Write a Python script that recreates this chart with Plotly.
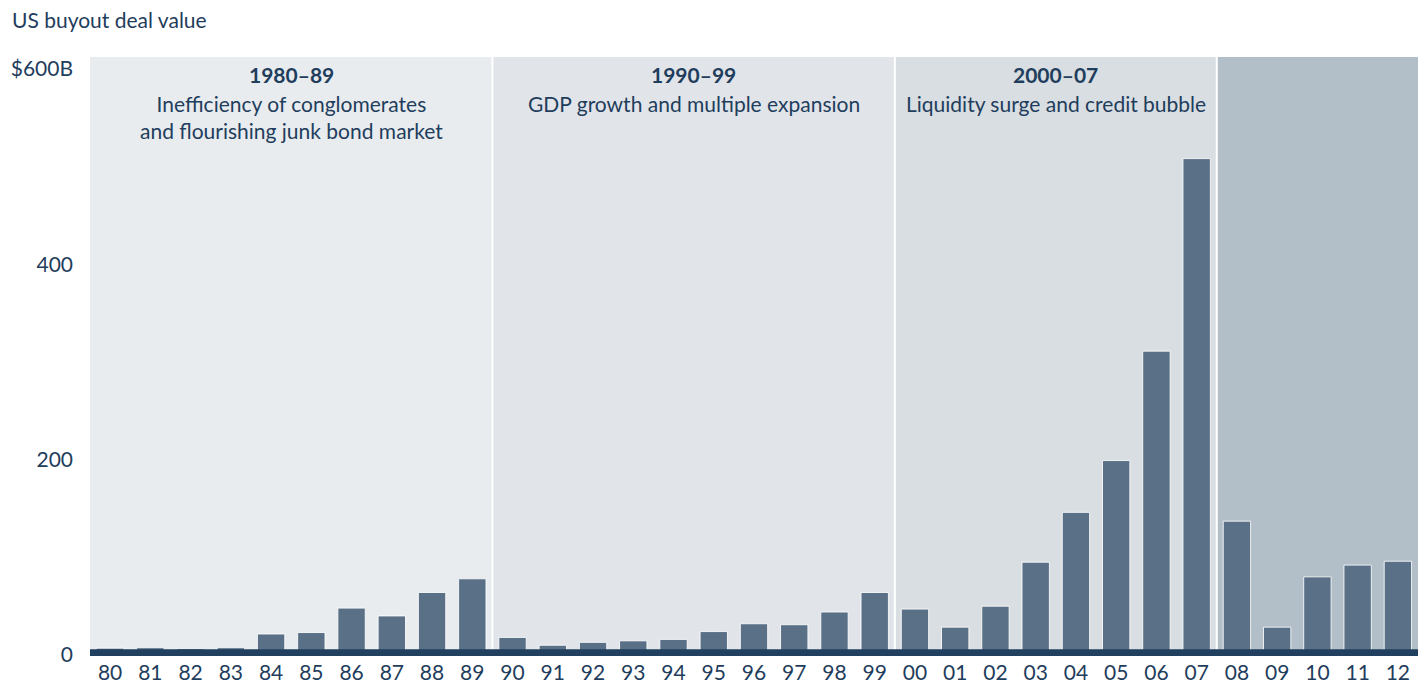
import plotly.graph_objects as go

years = ["80", "81", "82", "83", "84", "85", "86", "87", "88", "89",
         "90", "91", "92", "93", "94", "95", "96", "97", "98", "99",
         "00", "01", "02", "03", "04", "05", "06", "07",
         "08", "09", "10", "11", "12"]
deal_value = [7, 7.5, 6.5, 7.5, 21.5, 23, 48, 40, 64, 78,
              18, 10, 13, 14.5, 16, 24, 32, 31, 44, 64,
              47, 28.5, 50, 95, 146, 199, 311, 508,
              137, 28.5, 80, 92, 96]

era_labels = ["1980–89", "1990–99", "2000–07", ""]
era_notes = ["Inefficiency of conglomerates<br>and flourishing junk bond market",
             "GDP growth and multiple expansion",
             "Liquidity surge and credit bubble", ""]
era_start = [0, 10, 20, 28]
era_end = [9, 19, 27, 32]
era_colors = ["#e8ecef", "#e1e5ea", "#d9dee2", "#b2bec8"]

ytick_vals = [0, 200, 400, 600]
ytick_text = ["0", "200", "400", "$600B"]

NAVY = "#1f3d5c"
FONT = "Lato"

W, H = 1420, 685
ML, MR, MT, MB = 82, 10, 49, 37
PW, PH = W - ML - MR, H - MT - MB

fig = go.Figure()
fig.add_trace(go.Bar(
    x=list(range(len(years))), y=deal_value,
    marker=dict(color="#5a7086", line=dict(color="rgba(255,255,255,0.85)", width=1)),
    width=0.68, hoverinfo="x+y",
))

shapes = []
annotations = []
for s, e, c, lab, note in zip(era_start, era_end, era_colors, era_labels, era_notes):
    shapes.append(dict(type="rect", xref="x", yref="paper", x0=s - 0.5, x1=e + 0.5,
                       y0=0, y1=1, fillcolor=c, line=dict(width=0), layer="below"))
    if lab:
        cx = (s + e) / 2
        annotations.append(dict(x=cx, y=1, xref="x", yref="paper", yshift=-3,
                                text="<b>" + lab + "</b>", showarrow=False,
                                xanchor="center", yanchor="top",
                                font=dict(family=FONT, size=21, color=NAVY)))
        annotations.append(dict(x=cx, y=1, xref="x", yref="paper", yshift=-32,
                                text=note, showarrow=False,
                                xanchor="center", yanchor="top",
                                font=dict(family=FONT, size=21, color=NAVY)))
# chart title as annotation above the plot
annotations.append(dict(x=(2 - ML) / PW, y=1 + (MT - 11) / PH, xref="paper", yref="paper",
                        text="US buyout deal value", showarrow=False,
                        xanchor="left", yanchor="middle",
                        font=dict(family=FONT, size=21, color=NAVY)))
# white separators
for s in era_start[1:]:
    shapes.append(dict(type="line", xref="x", yref="paper", x0=s - 0.5, x1=s - 0.5,
                       y0=0, y1=1, line=dict(color="white", width=2), layer="below"))
# baseline
shapes.append(dict(type="rect", xref="paper", yref="y", x0=0, x1=1, y0=-1, y1=6,
                   fillcolor="#213f5e", line=dict(width=0), layer="above"))

fig.update_layout(
    width=W, height=H,
    margin=dict(l=ML, r=MR, t=MT, b=MB, pad=0),
    paper_bgcolor="white", plot_bgcolor="white",
    showlegend=False,
    shapes=shapes, annotations=annotations,
    xaxis=dict(range=[-0.5, len(years) - 0.5], tickmode="array",
               tickvals=list(range(len(years))), ticktext=years,
               showgrid=False, zeroline=False, showline=False, ticks="",
               ticklabelstandoff=2, automargin=False,
               tickfont=dict(family=FONT, size=21, color=NAVY)),
    yaxis=dict(range=[-1, 612], tickmode="array", tickvals=ytick_vals, ticktext=ytick_text,
               showgrid=False, zeroline=False, showline=False, ticks="",
               ticklabelstandoff=16, automargin=False,
               tickfont=dict(family=FONT, size=21, color=NAVY)),
    bargap=0.32,
)

fig.write_html("out.html")
